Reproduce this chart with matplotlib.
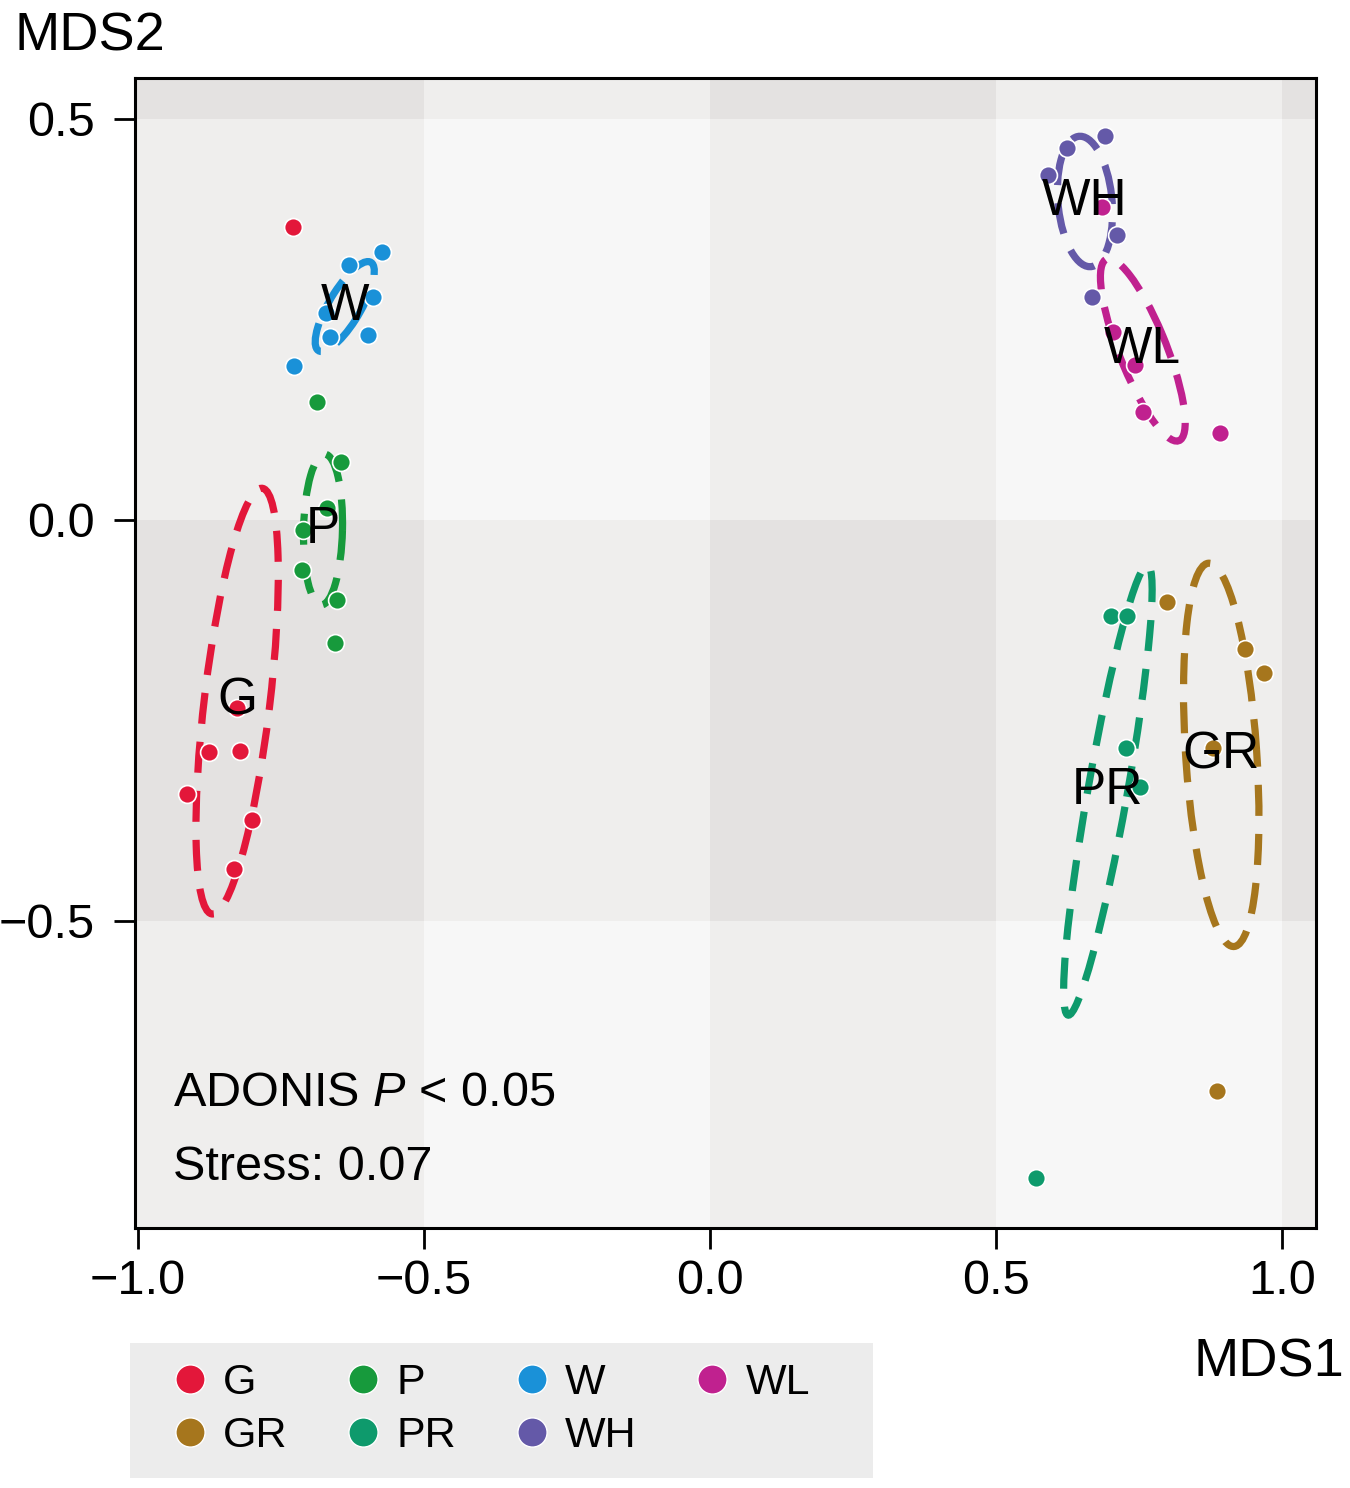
import numpy as np
import matplotlib
matplotlib.use("Agg")
import matplotlib.pyplot as plt
from matplotlib.patches import Ellipse, Rectangle
from matplotlib.lines import Line2D

plt.rcParams['font.family'] = ['Liberation Sans', 'DejaVu Sans']
plt.rcParams['mathtext.fontset'] = 'custom'
plt.rcParams['mathtext.rm'] = 'Liberation Sans'
plt.rcParams['mathtext.it'] = 'Liberation Sans:italic'

# groups and colours
groups = ['G', 'GR', 'P', 'PR', 'W', 'WH', 'WL']
colors = ['#e3173a', '#a6761d', '#179a3c', '#0e9a6c', '#1a91d8', '#6459a8', '#c0218f']

# NMDS scores
mds1 = {
    'G':  [-0.728, -0.826, -0.875, -0.821, -0.914, -0.800, -0.831],
    'GR': [0.798, 0.934, 0.968, 0.879, 0.886],
    'P':  [-0.686, -0.645, -0.669, -0.711, -0.713, -0.652, -0.655],
    'PR': [0.700, 0.728, 0.727, 0.751, 0.569],
    'W':  [-0.573, -0.631, -0.589, -0.671, -0.664, -0.597, -0.727],
    'WH': [0.690, 0.624, 0.590, 0.711, 0.667],
    'WL': [0.685, 0.704, 0.742, 0.756, 0.891],
}
mds2 = {
    'G':  [0.365, -0.234, -0.289, -0.288, -0.342, -0.374, -0.435],
    'GR': [-0.103, -0.161, -0.191, -0.284, -0.712],
    'P':  [0.147, 0.072, 0.015, -0.012, -0.062, -0.100, -0.153],
    'PR': [-0.120, -0.120, -0.284, -0.333, -0.820],
    'W':  [0.334, 0.318, 0.278, 0.258, 0.228, 0.231, 0.192],
    'WH': [0.479, 0.464, 0.430, 0.355, 0.278],
    'WL': [0.390, 0.234, 0.193, 0.135, 0.108],
}

# group ellipses: centre, semi axes, rotation (deg)
ell_cx = {'G': -0.826, 'GR': 0.893, 'P': -0.676, 'PR': 0.695, 'W': -0.638, 'WH': 0.655, 'WL': 0.756}
ell_cy = {'G': -0.226, 'GR': -0.293, 'P': -0.012, 'PR': -0.337, 'W': 0.266, 'WH': 0.397, 'WL': 0.212}
ell_a = {'G': 0.269, 'GR': 0.240, 'P': 0.094, 'PR': 0.289, 'W': 0.072, 'WH': 0.082, 'WL': 0.130}
ell_b = {'G': 0.057, 'GR': 0.062, 'P': 0.034, 'PR': 0.034, 'W': 0.025, 'WH': 0.047, 'WL': 0.039}
ell_ang = {'G': 80.4, 'GR': 95.5, 'P': 88, 'PR': 76, 'W': 48, 'WH': 99, 'WL': 120.5}

xticks = [-1.0, -0.5, 0.0, 0.5, 1.0]
yticks = [-0.5, 0.0, 0.5]

fig = plt.figure(figsize=(13.5, 14.88), dpi=100)
ax = fig.add_axes([0.1, 0.1747, 0.8748, 0.7729])
ax.set_xlim(-1.0044, 1.0585)
ax.set_ylim(-0.883, 0.551)

# checkerboard background
xe = [-3, -0.5, 0.0, 0.5, 1.0, 3]
ye = [3, 0.5, 0.0, -0.5, -3]
shades = ['#f7f7f7', '#efeeed', '#e4e2e1']
for i in range(len(xe) - 1):
    for j in range(len(ye) - 1):
        lvl = (i % 2 == 0) + (j % 2 == 0)
        ax.add_patch(Rectangle((xe[i], ye[j + 1]), xe[i + 1] - xe[i], ye[j] - ye[j + 1],
                               facecolor=shades[lvl], edgecolor='none', zorder=0))

for g, c in zip(groups, colors):
    e = Ellipse((ell_cx[g], ell_cy[g]), 2 * ell_a[g], 2 * ell_b[g], angle=ell_ang[g],
                fill=False, edgecolor=c, lw=5.2, linestyle=(0, (4.3, 2.5)), zorder=2)
    ax.add_patch(e)
    ax.scatter(mds1[g], mds2[g], s=165, color=c, edgecolor='white', linewidth=1.2, zorder=3)
    ax.text(ell_cx[g], ell_cy[g], g, fontsize=37, ha='center', va='center', zorder=4)

ax.text(-0.938, -0.731, r'ADONIS $\mathit{P}$ < 0.05', fontsize=35, va='baseline')
ax.text(-0.938, -0.823, 'Stress: 0.07', fontsize=35, va='baseline')

ax.set_xticks(xticks)
ax.set_yticks(yticks)
ax.set_xticklabels(['\u22121.0', '\u22120.5', '0.0', '0.5', '1.0'])
ax.set_yticklabels(['\u22120.5', '0.0', '0.5'])
ax.tick_params(axis='both', labelsize=35, width=2, length=15, direction='out')
ax.tick_params(axis='y', pad=14)
ax.tick_params(axis='x', pad=7)
for sp in ax.spines.values():
    sp.set_linewidth(2.2)

fig.text(0.011, 0.992, 'MDS2', fontsize=39, ha='left', va='top')
fig.text(0.996, 0.075, 'MDS1', fontsize=39, ha='right', va='baseline')

# legend panel
fig.patches.append(Rectangle((130 / 1350, 1 - 1478 / 1488), 743 / 1350, 135 / 1488,
                             transform=fig.transFigure, facecolor='#ececec',
                             edgecolor='none', zorder=0))
handles = [Line2D([], [], marker='o', linestyle='none', markersize=21, color=c,
                  markeredgecolor='white', markeredgewidth=1, label=g)
           for g, c in zip(groups, colors)]
leg = fig.legend(handles=handles, ncol=4, loc='upper left', bbox_to_anchor=(0.1245, 0.0840),
                 fontsize=31, frameon=False, handlelength=1.0,
                 handletextpad=0.28, columnspacing=1.25, labelspacing=0.3, borderpad=0,
                 borderaxespad=0)

fig.savefig('out.png', dpi=100)
